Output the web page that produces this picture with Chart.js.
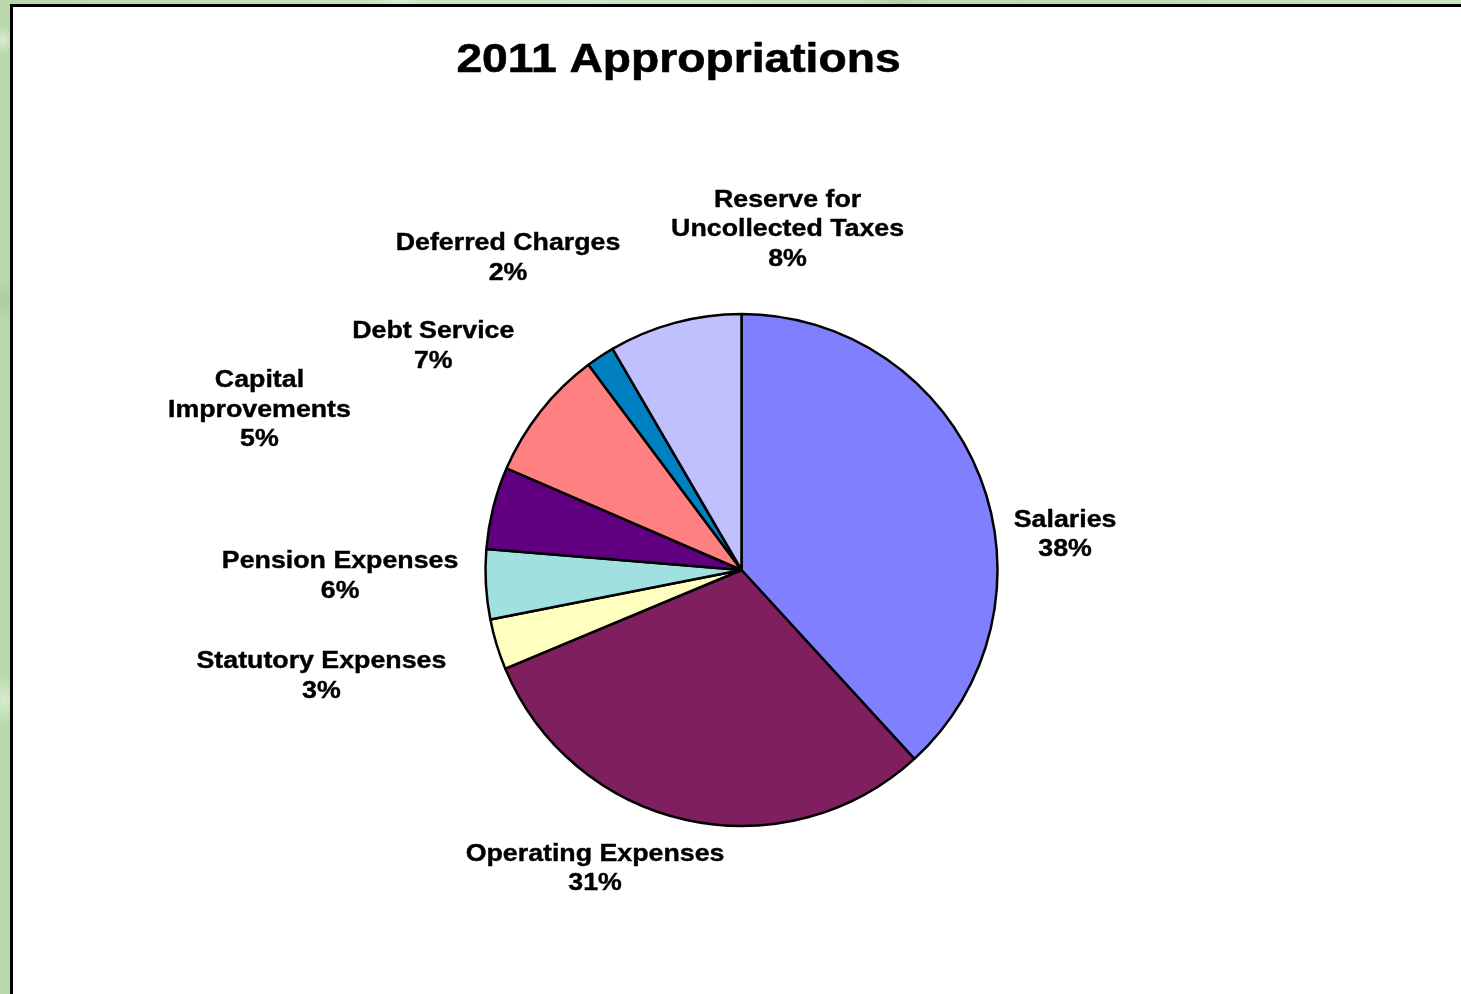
<!DOCTYPE html>
<html>
<head>
<meta charset="utf-8">
<script src="https://cdn.jsdelivr.net/npm/chart.js@4.4.1/dist/chart.umd.min.js"></script>
<style>
  html, body { margin: 0; padding: 0; width: 1461px; height: 994px; overflow: hidden; }
  body {
    background-color: #bfdcb4;
    background-image:
      radial-gradient(circle at 3px 40px, rgba(225,242,218,0.8) 0, rgba(225,242,218,0) 14px),
      radial-gradient(circle at 6px 300px, rgba(165,200,150,0.6) 0, rgba(165,200,150,0) 20px),
      radial-gradient(circle at 400px 2px, rgba(220,238,212,0.8) 0, rgba(220,238,212,0) 30px),
      radial-gradient(circle at 900px 1px, rgba(170,205,155,0.6) 0, rgba(170,205,155,0) 40px),
      radial-gradient(circle at 4px 700px, rgba(222,240,214,0.8) 0, rgba(222,240,214,0) 25px),
      linear-gradient(90deg, #b8d8ab, #cfe6c6 40%, #bcd9b0 70%, #cae3c0);
    position: relative;
  }
  #panel {
    position: absolute; left: 10px; top: 4px; width: 1470px; height: 1010px;
    background: #ffffff; border: 3px solid #000; box-sizing: border-box;
  }
  #c { position: absolute; left: 0; top: 0; }
</style>
</head>
<body>
<div id="panel"></div>
<canvas id="c" width="1461" height="994"></canvas>
<script>
// ---- data ----
const titleText = '2011 Appropriations';
const categories = [
  'Salaries',
  'Operating Expenses',
  'Statutory Expenses',
  'Pension Expenses',
  ['Capital', 'Improvements'],
  'Debt Service',
  'Deferred Charges',
  ['Reserve for', 'Uncollected Taxes']
];
const sliceValues = [38.2, 30.5, 3.2, 4.4, 5.2, 8.3, 1.8, 8.4];
const percentLabels = ['38%', '31%', '3%', '6%', '5%', '7%', '2%', '8%'];
const sliceColors = ['#8080FF', '#7F1F5F', '#FFFFC0', '#A0E0E0', '#600080', '#FF8080', '#0080C0', '#C0C0FF'];

// label anchor offsets relative to pie centre, in units of the pie radius
const labelOffsets = [
  [1.264, -0.169], [-0.572, 1.136], [-1.641, 0.384], [-1.568, -0.007],
  [-1.883, -0.714], [-1.204, -0.905], [-0.912, -1.250], [0.180, -1.419]
];

const labelPlugin = {
  id: 'pieLabels',
  afterDatasetsDraw(chart) {
    const ctx = chart.ctx;
    const meta = chart.getDatasetMeta(0);
    const font = 'bold 24px "Liberation Sans", Arial, sans-serif';
    const sx = 1.115, lh = 29.5;
    ctx.save();
    ctx.fillStyle = '#000';
    ctx.strokeStyle = '#000';
    ctx.lineWidth = 0.4;
    ctx.textAlign = 'center';
    ctx.textBaseline = 'alphabetic';
    meta.data.forEach((arc, i) => {
      const r = arc.outerRadius;
      const cx = arc.x + labelOffsets[i][0] * r;
      const by = arc.y + labelOffsets[i][1] * r;
      const cat = chart.data.labels[i];
      const lines = (Array.isArray(cat) ? cat.slice() : [cat]);
      lines.push(percentLabels[i]);
      ctx.font = font;
      lines.forEach((ln, k) => {
        ctx.save();
        ctx.translate(cx, by + k * lh);
        ctx.scale(sx, 1);
        ctx.fillText(ln, 0, 0);
        ctx.strokeText(ln, 0, 0);
        ctx.restore();
      });
    });
    // title
    ctx.font = 'bold 40px "Liberation Sans", Arial, sans-serif';
    ctx.lineWidth = 0.6;
    ctx.save();
    ctx.translate(678.5, 71.5);
    ctx.scale(1.155, 1);
    ctx.fillText(titleText, 0, 0);
    ctx.strokeText(titleText, 0, 0);
    ctx.restore();
    ctx.restore();
  }
};

new Chart(document.getElementById('c'), {
  type: 'pie',
  data: {
    labels: categories,
    datasets: [{
      data: sliceValues,
      backgroundColor: sliceColors,
      borderColor: '#000000',
      borderWidth: 2.5,
      clip: false
    }]
  },
  options: {
    responsive: false,
    animation: false,
    radius: 256,
    layout: { padding: { left: 22, right: 0, top: 146, bottom: 0 } },
    plugins: {
      legend: { display: false },
      tooltip: { enabled: false },
      title: { display: false }
    }
  },
  plugins: [labelPlugin]
});
</script>
</body>
</html>
